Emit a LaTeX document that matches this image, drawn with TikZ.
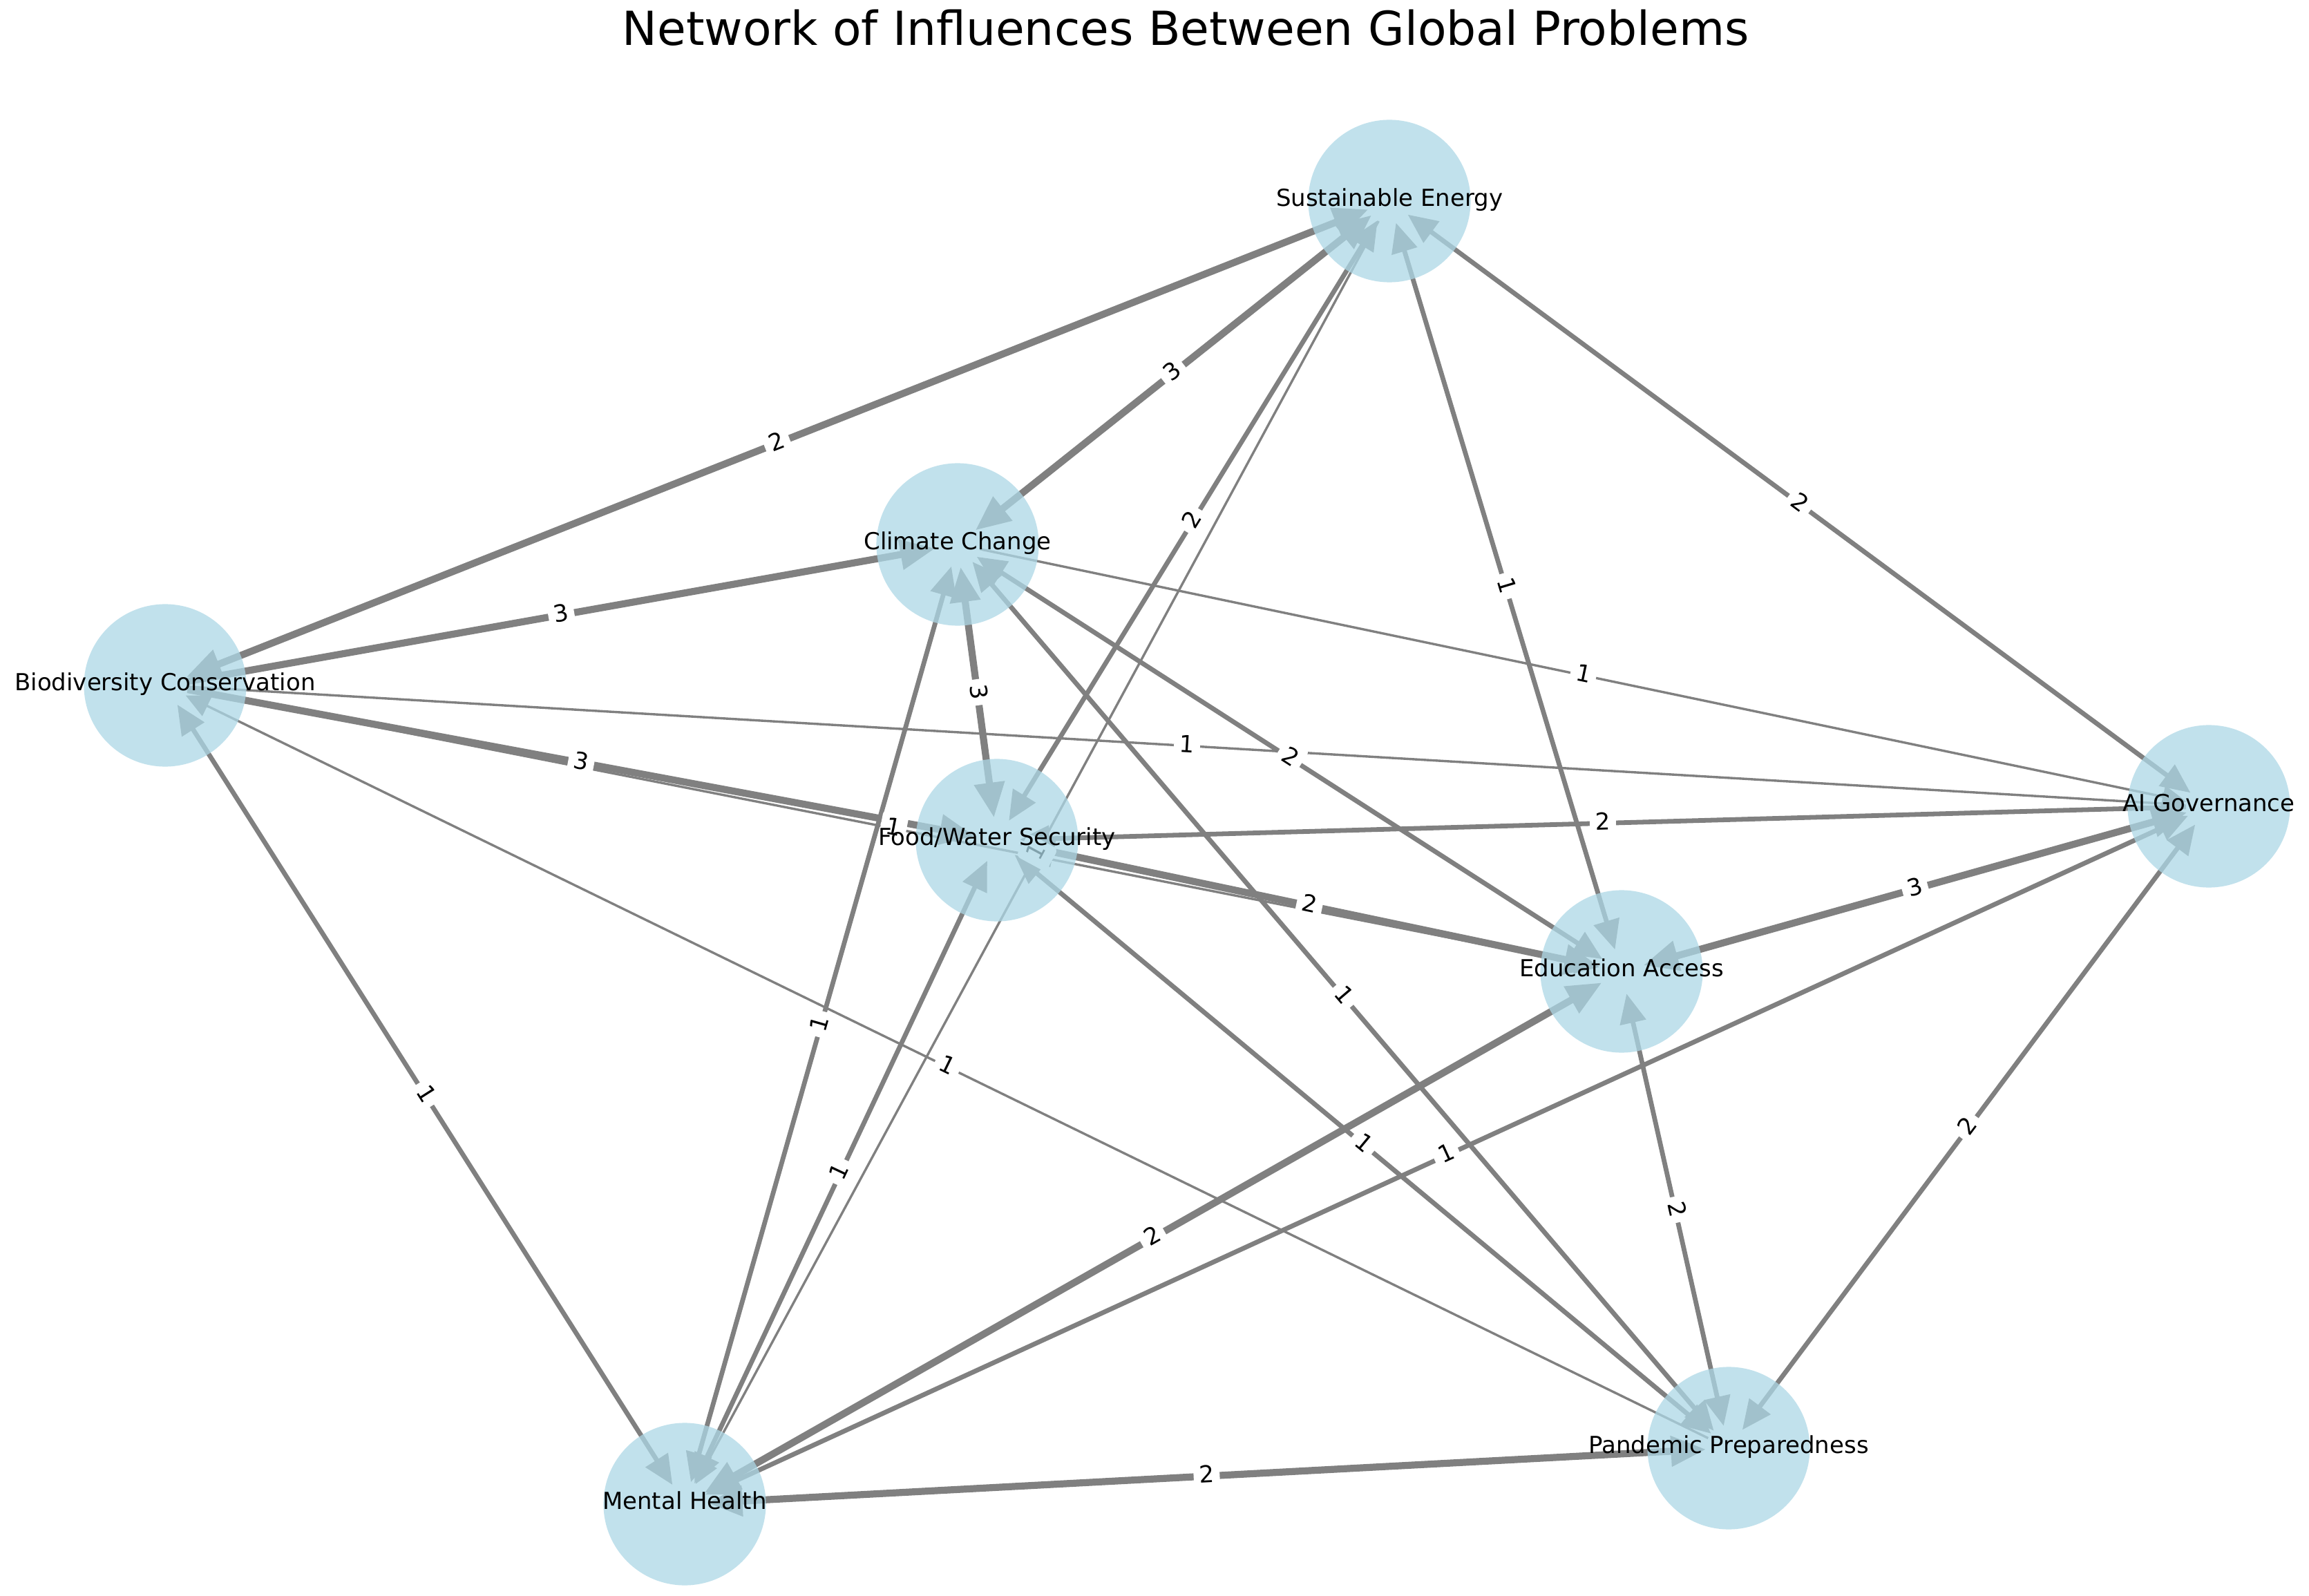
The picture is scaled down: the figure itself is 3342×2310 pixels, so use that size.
\documentclass[tikz,border=0pt]{standalone}
\usepackage{fontspec}
\setmainfont{DejaVu Sans}
\usetikzlibrary{arrows.meta}
\definecolor{egray}{RGB}{128,128,128}
\definecolor{nblue}{RGB}{173,216,230}
\begin{document}
\begin{tikzpicture}[x=0.01cm, y=-0.01cm,
  conn/.style={draw=egray, shorten <=0.33cm, shorten >=0.33cm},
  wa/.style={line width=0.965pt},
  wb/.style={line width=1.93pt},
  wc/.style={line width=2.9pt},
  fwd/.style={-{Triangle[length=7.7pt 2.3, width=7.7pt 1.5]}},
  bidir/.style={{Triangle[length=7.7pt 2.3, width=7.7pt 1.5]}-{Triangle[length=7.7pt 2.3, width=7.7pt 1.5]}},
  elabel/.style={fill=white, rounded corners=2pt, inner sep=2.3pt, text height=0.73em, text depth=0.2em, font=\fontsize{9.65pt}{11pt}\selectfont, sloped, text=black},
  circ/.style={circle, fill=nblue, fill opacity=0.75, draw=none, minimum size=2.35cm, inner sep=0pt},
  nlabel/.style={anchor=base, inner sep=0pt, font=\fontsize{9.65pt}{11pt}\selectfont, text=black}
]
\fill[white] (0,0) rectangle (3342,2310);
\useasboundingbox (0,0) rectangle (3342,2310);

% node centres
\coordinate (se) at (2011,291);
\coordinate (cc) at (1386,788);
\coordinate (bc) at (239,992);
\coordinate (fw) at (1443,1216);
\coordinate (ai) at (3197,1167);
\coordinate (ea) at (2347,1406);
\coordinate (pp) at (2502,2096);
\coordinate (mh) at (991,2177);

% edges
\draw[conn,wc,bidir] (se) -- (bc);
\draw[conn,wc,bidir] (se) -- (cc);
\draw[conn,wb,bidir] (se) -- (fw);
\draw[conn,wa,fwd] (se) -- (mh);
\draw[conn,wb,bidir] (se) -- (ea);
\draw[conn,wb,bidir] (se) -- (ai);
\draw[conn,wc,fwd] (bc) -- (cc);
\draw[conn,wc,bidir] (cc) -- (fw);
\draw[conn,wa,fwd] (cc) -- (ai);
\draw[conn,wb,bidir] (cc) -- (ea);
\draw[conn,wb,bidir] (cc) -- (pp);
\draw[conn,wb,bidir] (cc) -- (mh);
\draw[conn,wa,fwd] (bc) -- (ai);
\draw[conn,wc,fwd] (bc) -- (fw);
\draw[conn,wa,fwd] (bc) -- (ea);
\draw[conn,wa,fwd] (pp) -- (bc);
\draw[conn,wb,bidir] (bc) -- (mh);
\draw[conn,wb,fwd] (ai) -- (fw);
\draw[conn,wc,bidir] (fw) -- (ea);
\draw[conn,wb,bidir] (fw) -- (pp);
\draw[conn,wb,bidir] (fw) -- (mh);
\draw[conn,wc,bidir] (ai) -- (ea);
\draw[conn,wb,bidir] (ai) -- (pp);
\draw[conn,wb,bidir] (ai) -- (mh);
\draw[conn,wb,bidir] (ea) -- (pp);
\draw[conn,wc,bidir] (mh) -- (ea);
\draw[conn,wc,bidir] (mh) -- (pp);

% edge labels
\path (se) -- node[elabel] (l1) {2} (bc);
\path (se) -- node[elabel] (l2) {3} (cc);
\path (se) -- node[elabel] (l3) {2} (fw);
\path (se) -- node[elabel] (l4) {1} (mh);
\path (se) -- node[elabel] (l5) {1} (ea);
\path (se) -- node[elabel] (l6) {2} (ai);
\path (bc) -- node[elabel] (l7) {3} (cc);
\path (cc) -- node[elabel] (l8) {3} (fw);
\path (cc) -- node[elabel] (l9) {1} (ai);
\path (cc) -- node[elabel] (l10) {2} (ea);
\path (cc) -- node[elabel] (l11) {1} (pp);
\path (cc) -- node[elabel] (l12) {1} (mh);
\path (bc) -- node[elabel] (l13) {1} (ai);
\path (bc) -- node[elabel] (l14) {3} (fw);
\path (bc) -- node[elabel] (l15) {1} (ea);
\path (pp) -- node[elabel] (l16) {1} (bc);
\path (bc) -- node[elabel] (l17) {1} (mh);
\path (ai) -- node[elabel] (l18) {2} (fw);
\path (fw) -- node[elabel] (l19) {2} (ea);
\path (fw) -- node[elabel] (l20) {1} (pp);
\path (fw) -- node[elabel] (l21) {1} (mh);
\path (ai) -- node[elabel] (l22) {3} (ea);
\path (ai) -- node[elabel] (l23) {2} (pp);
\path (ai) -- node[elabel] (l24) {1} (mh);
\path (ea) -- node[elabel] (l25) {2} (pp);
\path (mh) -- node[elabel] (l26) {2} (ea);
\path (mh) -- node[elabel] (l27) {2} (pp);

% node discs
\foreach \n in {se,cc,bc,fw,ai,ea,pp,mh} {
  \node[circ] (\n C) at (\n) {};
}

% node labels
\node[nlabel] (seT) at ([yshift=-0.075cm]se) {Sustainable Energy};
\node[nlabel] (ccT) at ([yshift=-0.075cm]cc) {Climate Change};
\node[nlabel] (bcT) at ([yshift=-0.075cm]bc) {Biodiversity Conservation};
\node[nlabel] (fwT) at ([yshift=-0.075cm]fw) {Food/Water Security};
\node[nlabel] (aiT) at ([yshift=-0.075cm]ai) {AI Governance};
\node[nlabel] (eaT) at ([yshift=-0.075cm]ea) {Education Access};
\node[nlabel] (ppT) at ([yshift=-0.075cm]pp) {Pandemic Preparedness};
\node[nlabel] (mhT) at ([yshift=-0.075cm]mh) {Mental Health};

% title
\node[anchor=base, inner sep=0pt, font=\fontsize{19.3pt}{23pt}\selectfont, text=black] (title) at (1716,66) {Network of Influences Between Global Problems};
\end{tikzpicture}
\end{document}
